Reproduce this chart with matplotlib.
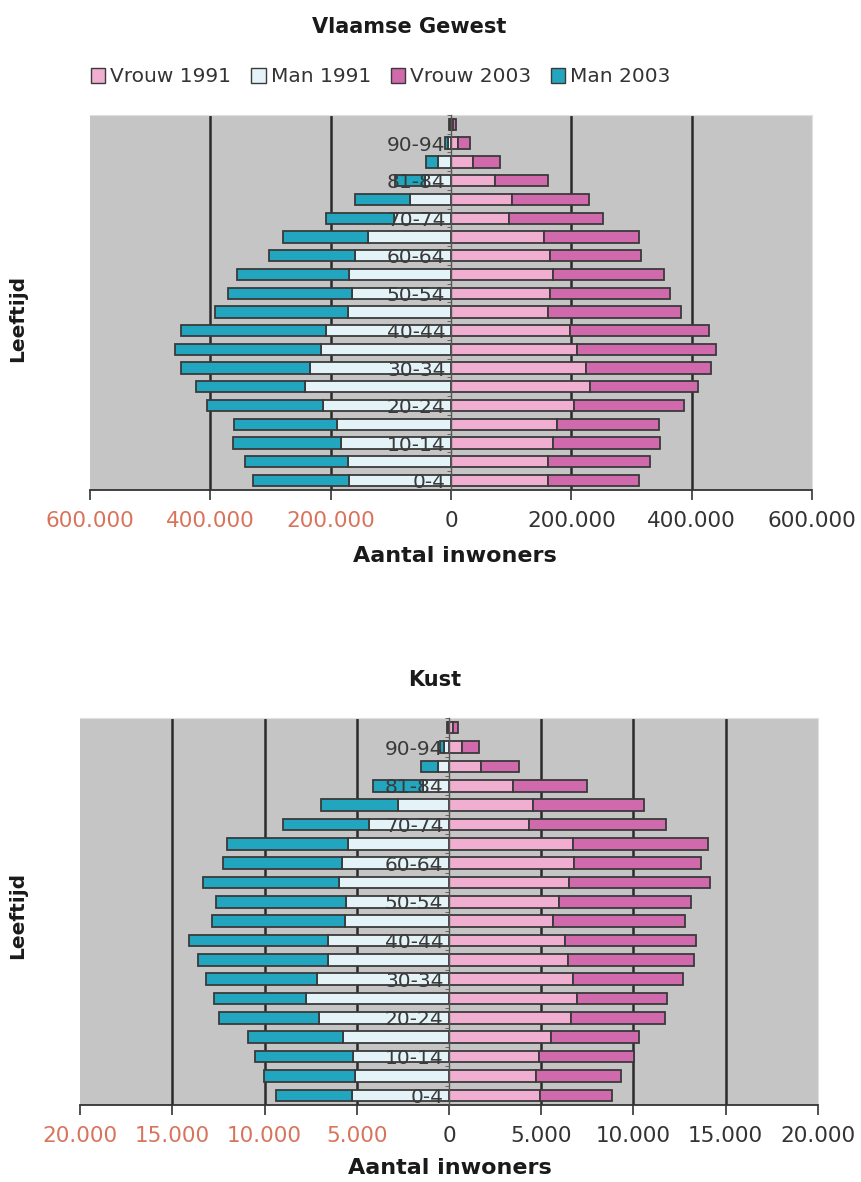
import numpy as np
import matplotlib
matplotlib.use('Agg')
import matplotlib.pyplot as plt
from matplotlib.patches import Patch
from matplotlib.ticker import FixedLocator

plt.rcParams['font.family'] = ['DejaVu Sans']

leeftijd = ['0-4', '5-9', '10-14', '15-19', '20-24', '25-29', '30-34', '35-39',
            '40-44', '45-49', '50-54', '55-59', '60-64', '65-69', '70-74', '75-79',
            '81-84', '85-89', '90-94', '95+']

# Vlaamse Gewest
vl_man_1991 = [169000, 171000, 183000, 189000, 212000, 242000, 234000, 216000, 208000, 171000,
               165000, 170000, 159000, 138000, 95000, 68000, 43000, 22000, 5000, 1500]
vl_man_2003 = [160000, 172000, 180000, 172000, 193000, 181000, 214000, 243000, 240000, 222000,
               206000, 185000, 143000, 141000, 113000, 91000, 50000, 19000, 5500, 2000]
vl_vrouw_1991 = [162000, 162000, 170000, 176000, 205000, 231000, 225000, 209000, 197000, 162000,
                 164000, 169000, 164000, 154000, 96000, 101000, 73000, 37000, 12000, 3000]
vl_vrouw_2003 = [150000, 169000, 178000, 170000, 183000, 179000, 207000, 232000, 231000, 220000,
                 200000, 185000, 151000, 158000, 157000, 128000, 88000, 45000, 20000, 4500]

# Kust
ku_man_1991 = [5250, 5120, 5210, 5720, 7020, 7740, 7150, 6570, 6570, 5660,
               5570, 5970, 5810, 5490, 4310, 2770, 1400, 600, 290, 60]
ku_man_2003 = [4130, 4890, 5280, 5160, 5470, 5020, 6030, 7060, 7510, 7180,
               7060, 7390, 6460, 6520, 4710, 4160, 2700, 900, 220, 60]
ku_vrouw_1991 = [4910, 4700, 4880, 5510, 6600, 6960, 6720, 6430, 6300, 5610,
                 5970, 6520, 6790, 6700, 4330, 4530, 3460, 1720, 720, 200]
ku_vrouw_2003 = [3910, 4620, 5160, 4800, 5120, 4830, 5940, 6840, 7100, 7200,
                 7150, 7600, 6880, 7330, 7420, 6060, 4040, 2080, 900, 280]

c_v91 = '#f0afd0'
c_m91 = '#e4f3f7'
c_v03 = '#d169ad'
c_m03 = '#22a5be'
edge = '#3a3a3a'
bg = '#c5c5c5'
red = '#d9745c'


def fmt(v):
    return f"{abs(int(v)):,}".replace(',', '.')


def pyramide(ax, m91, m03, v91, v03, lim, step):
    y = np.arange(len(leeftijd))
    m91 = np.array(m91)
    m03 = np.array(m03)
    v91 = np.array(v91)
    v03 = np.array(v03)
    h = 0.6
    ax.barh(y, v91, height=h, color=c_v91, edgecolor=edge, linewidth=1.3, zorder=3)
    ax.barh(y, v03, left=v91, height=h, color=c_v03, edgecolor=edge, linewidth=1.3, zorder=3)
    ax.barh(y, -m91, height=h, color=c_m91, edgecolor=edge, linewidth=1.3, zorder=3)
    ax.barh(y, -m03, left=-m91, height=h, color=c_m03, edgecolor=edge, linewidth=1.3, zorder=3)

    ax.set_facecolor(bg)
    ax.set_xlim(-lim, lim)
    ax.set_ylim(-0.5, len(leeftijd) - 0.5)

    ticks = np.arange(-lim, lim + 1, step)
    ax.set_xticks(ticks)
    ax.set_xticklabels([fmt(t) for t in ticks])
    ax.tick_params(axis='x', direction='out', length=7, width=1.2, color='#333333',
                   pad=8, labelsize=15.5)
    for t, lab in zip(ticks, ax.get_xticklabels()):
        lab.set_color(red if t < 0 else '#333333')
    for t in ticks:
        if t != 0 and abs(t) != lim:
            ax.axvline(t, color='#2a2a2a', linewidth=1.8, zorder=1)

    ax.set_yticks(y[::2])
    ax.set_yticklabels(leeftijd[::2])
    ax.yaxis.set_minor_locator(FixedLocator(y + 0.5))
    ax.tick_params(axis='y', which='major', length=0, pad=4, labelsize=14.5,
                   labelcolor='#3a3a3a')
    ax.tick_params(axis='y', which='minor', length=3, color='#555555', direction='out')
    ax.yaxis.set_zorder(5)

    ax.spines['left'].set_position(('data', 0))
    ax.spines['left'].set_color('#555555')
    ax.spines['left'].set_linewidth(1.0)
    ax.spines['left'].set_zorder(4)
    ax.spines['bottom'].set_color('#333333')
    ax.spines['bottom'].set_linewidth(1.3)
    ax.spines['top'].set_color('#e0e0e0')
    ax.spines['right'].set_color('#e0e0e0')


fig = plt.figure(figsize=(8.62, 11.82), dpi=100)

ax1 = fig.add_axes([90 / 862, 1 - 490 / 1182, 722 / 862, 375 / 1182])
pyramide(ax1, vl_man_1991, vl_man_2003, vl_vrouw_1991, vl_vrouw_2003, 600000, 200000)

ax2 = fig.add_axes([80 / 862, 1 - 1105 / 1182, 738 / 862, 387 / 1182])
pyramide(ax2, ku_man_1991, ku_man_2003, ku_vrouw_1991, ku_vrouw_2003, 20000, 5000)

fig.text(409 / 862, 1 - 27 / 1182, 'Vlaamse Gewest', ha='center', va='center',
         fontsize=15, fontweight='bold', color='#1a1a1a')
fig.text(435 / 862, 1 - 680 / 1182, 'Kust', ha='center', va='center',
         fontsize=15, fontweight='bold', color='#1a1a1a')

fig.text(455 / 862, 1 - 556 / 1182, 'Aantal inwoners', ha='center', va='center',
         fontsize=16, fontweight='bold', color='#1a1a1a')
fig.text(450 / 862, 1 - 1168 / 1182, 'Aantal inwoners', ha='center', va='center',
         fontsize=16, fontweight='bold', color='#1a1a1a')

fig.text(18 / 862, 1 - 318 / 1182, 'Leeftijd', ha='center', va='center', rotation=90,
         fontsize=14.5, fontweight='bold', color='#1a1a1a')
fig.text(18 / 862, 1 - 915 / 1182, 'Leeftijd', ha='center', va='center', rotation=90,
         fontsize=14.5, fontweight='bold', color='#1a1a1a')

handles = [Patch(facecolor=c_v91, edgecolor=edge, label='Vrouw 1991'),
           Patch(facecolor=c_m91, edgecolor=edge, label='Man 1991'),
           Patch(facecolor=c_v03, edgecolor=edge, label='Vrouw 2003'),
           Patch(facecolor=c_m03, edgecolor=edge, label='Man 2003')]
fig.legend(handles=handles, loc='center', bbox_to_anchor=(381 / 862, 1 - 77 / 1182),
           ncol=4, frameon=False, fontsize=14.5, handlelength=0.7, handleheight=0.7,
           handletextpad=0.25, columnspacing=1.0, labelcolor='#333333')

fig.savefig('out.png', dpi=100)
